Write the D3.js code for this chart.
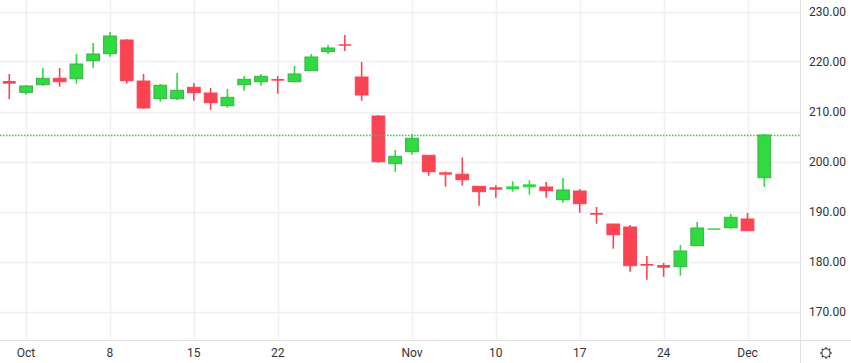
<!DOCTYPE html>
<html><head><meta charset="utf-8">
<script src="https://cdn.jsdelivr.net/npm/d3@7"></script>
<style>body{margin:0;background:#fff;}svg{display:block;font-family:Roboto,"Open Sans",sans-serif;}</style>
</head><body><svg id="c" width="851" height="363"></svg>
<script>
const dates = ["2025-09-30","2025-10-01","2025-10-02","2025-10-03","2025-10-06","2025-10-07","2025-10-08","2025-10-09","2025-10-10","2025-10-13","2025-10-14","2025-10-15","2025-10-16","2025-10-17","2025-10-20","2025-10-21","2025-10-22","2025-10-23","2025-10-24","2025-10-27","2025-10-28","2025-10-29","2025-10-30","2025-10-31","2025-11-03","2025-11-04","2025-11-05","2025-11-06","2025-11-07","2025-11-10","2025-11-11","2025-11-12","2025-11-13","2025-11-14","2025-11-17","2025-11-18","2025-11-19","2025-11-20","2025-11-21","2025-11-24","2025-11-25","2025-11-26","2025-11-27","2025-11-28","2025-12-01","2025-12-02"];
const open  = [216.1,213.84,215.36,216.64,216.56,220.16,221.56,224.3,216.1,212.56,212.56,214.84,213.7,211.16,215.36,215.96,216.5,215.96,218.16,221.96,223.45,216.9,209.1,199.56,201.96,201.24,197.84,197.44,195.04,194.84,194.44,194.84,194.9,192.36,194.1,189.7,187.5,186.9,179.5,179.3,178.96,183.16,186.64,186.76,188.5,196.76];
const high  = [217.5,215.3,218.7,218.7,221.5,223.7,225.9,224.5,217.5,215.5,217.7,215.7,214.7,214.5,217.1,217.5,217.1,219.1,221.5,223.3,225.3,219.9,209.3,202.3,205.5,201.24,198.0,200.84,195.04,195.24,196.04,196.24,195.9,196.7,194.5,190.9,187.5,187.3,181.1,179.7,183.3,187.9,186.64,189.5,189.7,205.5];
const low   = [212.5,213.36,215.16,214.96,215.56,218.76,220.96,215.56,210.5,211.96,212.3,212.16,210.36,210.76,214.16,215.16,213.56,215.96,218.16,221.5,222.1,212.16,199.76,197.96,201.36,197.16,194.96,195.16,191.16,192.76,193.96,193.36,192.76,191.76,189.76,187.56,182.56,177.96,176.36,176.96,177.16,183.16,186.64,186.5,186.16,194.96];
const close = [215.56,215.1,216.64,215.96,219.5,221.5,225.1,216.16,210.7,215.24,214.24,213.76,211.76,212.84,216.44,217.04,216.16,217.5,220.9,222.7,223.3,213.3,199.96,201.04,204.64,197.96,197.36,196.36,193.96,194.36,195.04,195.44,194.16,194.3,191.56,189.36,185.36,179.16,179.16,178.76,182.1,186.7,186.64,188.84,186.16,205.3];
const yTicks = [170,180,190,200,210,220,230];
const xTickDates = ["2025-10-01","2025-10-08","2025-10-15","2025-10-22","2025-11-03","2025-11-10","2025-11-17","2025-11-24","2025-12-01"];
const xTickLabels = ["Oct","8","15","22","Nov","10","17","24","Dec"];

const data = dates.map((d,i)=>({d,o:open[i],h:high[i],l:low[i],c:close[i]}));
const svg = d3.select("#c");
const W=851,H=363, plotR=800, plotB=340;
const x = d3.scalePoint().domain(dates).range([9.3,764.3]);
const y = d3.scaleLinear().domain([170,230]).range([311.5,11.5]);
const bw = x.step()*0.76;

const GREEN="#2fdb3f", GREENB="#3fae4b", RED="#fa4453";

// grid
const g = svg.append("g");
g.selectAll("line.h").data(yTicks).join("line")
 .attr("x1",0).attr("x2",plotR).attr("y1",d=>Math.round(y(d))+0.5).attr("y2",d=>Math.round(y(d))+0.5)
 .attr("stroke","#f0f0f0").attr("stroke-width",1.5);
g.selectAll("line.v").data(xTickDates).join("line")
 .attr("y1",0).attr("y2",plotB).attr("x1",d=>Math.round(x(d))+0.5).attr("x2",d=>Math.round(x(d))+0.5)
 .attr("stroke","#f0f0f0").attr("stroke-width",1.5);

// candles
const cg = svg.append("g");
cg.selectAll("line.w").data(data).join("line")
 .attr("x1",d=>x(d.d)).attr("x2",d=>x(d.d)).attr("y1",d=>y(d.h)).attr("y2",d=>y(d.l))
 .attr("stroke",d=>d.c>=d.o?GREEN:RED).attr("stroke-width",1.6);
cg.selectAll("rect").data(data).join("rect")
 .attr("x",d=>x(d.d)-bw/2).attr("width",bw)
 .attr("y",d=>y(Math.max(d.o,d.c)))
 .attr("height",d=>Math.max(1.5,Math.abs(y(d.o)-y(d.c))))
 .attr("fill",d=>d.c>=d.o?GREEN:RED)
 .attr("stroke",d=>d.c>=d.o?GREENB:RED).attr("stroke-width",d=>Math.abs(y(d.o)-y(d.c))>3?1:0);

// last close dotted
const ly = Math.round(y(close[close.length-1]))+0.5;
svg.append("line").attr("x1",0).attr("x2",plotR).attr("y1",ly).attr("y2",ly)
 .attr("stroke","#2ecc3e").attr("stroke-width",1.6).attr("stroke-dasharray","1.5,1.5");

// axes borders
svg.append("line").attr("x1",0).attr("x2",W).attr("y1",plotB+0.5).attr("y2",plotB+0.5).attr("stroke","#e0e0e0");
svg.append("line").attr("x1",plotR+0.5).attr("x2",plotR+0.5).attr("y1",0).attr("y2",H).attr("stroke","#e0e0e0");

// y labels
svg.append("g").selectAll("text").data(yTicks).join("text")
 .attr("x",809).attr("y",d=>y(d)).attr("dy","0.35em")
 .attr("font-size",12).attr("fill","#333").text(d=>d.toFixed(2));

// x labels
svg.append("g").selectAll("text").data(xTickDates).join("text")
 .attr("x",d=>x(d)).attr("y",353).attr("dy","0.35em").attr("text-anchor","middle")
 .attr("font-size",12).attr("fill","#333").text((d,i)=>xTickLabels[i]);

// settings icon
const ic = svg.append("g").attr("transform","translate(826,353)").attr("stroke","#333").attr("fill","none").attr("stroke-width",1.1);
ic.append("circle").attr("r",4.2);
d3.range(8).forEach(k=>{const a=k*Math.PI/4;ic.append("line").attr("x1",Math.cos(a)*4.2).attr("y1",Math.sin(a)*4.2).attr("x2",Math.cos(a)*6).attr("y2",Math.sin(a)*6);});
</script></body></html>
